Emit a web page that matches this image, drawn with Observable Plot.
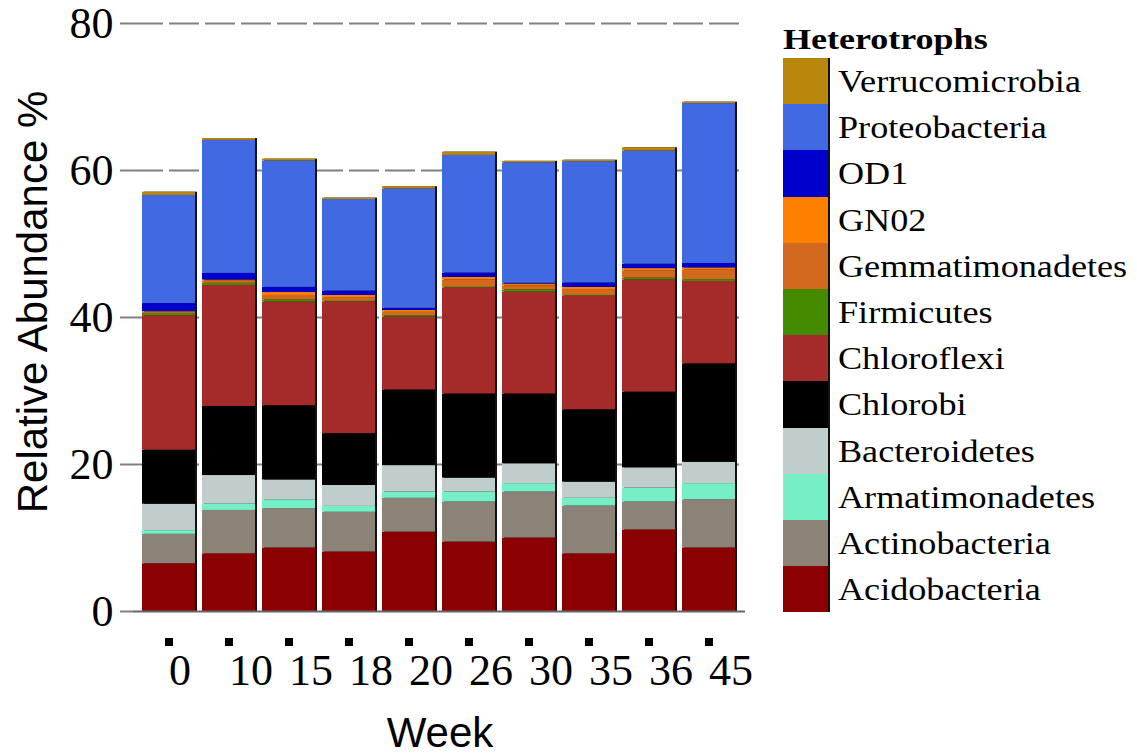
<!DOCTYPE html>
<html>
<head>
<meta charset="utf-8">
<script src="https://cdn.jsdelivr.net/npm/d3@7"></script>
<script src="https://cdn.jsdelivr.net/npm/@observablehq/plot@0.6"></script>
<style>
  html, body { margin: 0; padding: 0; background: #fff; }
  #wrap { position: relative; width: 1137px; height: 756px; overflow: hidden; background: #fff; }
  #chart { position: absolute; left: 0; top: 0; }
  #chart svg text { font-family: "Liberation Serif", "Times New Roman", serif; }
  .ytitle { position: absolute; left: 33px; top: 302px; transform: translate(-50%, -50%) rotate(-90deg);
    font-family: "Liberation Sans", Arial, sans-serif; font-size: 42px; line-height: 42px; white-space: nowrap; color: #000; }
  .xtitle { position: absolute; left: 440px; top: 712px; transform: translateX(-50%);
    font-family: "Liberation Sans", Arial, sans-serif; font-size: 42px; line-height: 42px; white-space: nowrap; color: #000; }
  #legend { position: absolute; left: 783px; top: 24px; font-family: "Liberation Serif", "Times New Roman", serif; color: #000; }
  #legend .title { font-weight: bold; font-size: 30px; line-height: 30px; height: 34px; transform: scaleX(1.2); transform-origin: left center; white-space: nowrap; }
  #legend .rows { border-right: 2px solid #111; width: 45px; }
  #legend .row { position: relative; height: 46.2px; width: 45px; }
  #legend .row span { position: absolute; left: 55px; top: 50%; transform: translateY(-50%) scaleX(1.13); transform-origin: left center;
    font-size: 32px; line-height: 32px; white-space: nowrap; }
</style>
</head>
<body>
<div id="wrap">
  <div id="chart"></div>
  <div class="ytitle">Relative Abundance %</div>
  <div class="xtitle">Week</div>
  <div id="legend"></div>
</div>
<script>
// Categories (weeks) and phyla, bottom-to-top stacking order
const weeks = ["0", "10", "15", "18", "20", "26", "30", "35", "36", "45"];
const phyla = ["Acidobacteria", "Actinobacteria", "Armatimonadetes", "Bacteroidetes", "Chlorobi", "Chloroflexi",
  "Firmicutes", "Gemmatimonadetes", "GN02", "OD1", "Proteobacteria", "Verrucomicrobia"];
const colors = ["#8b0000", "#8b8378", "#76eec6", "#c1cdcd", "#000000", "#a52a2a",
  "#458b00", "#d2691e", "#ff7f00", "#0000cd", "#4169e1", "#b8860b"];
const yTicks = [0, 20, 40, 60, 80];

// Relative abundance (%) per week
const Acidobacteria    = [6.5, 7.85, 8.65, 8.1, 10.8, 9.45, 10.0, 7.85, 11.1, 8.65];
const Actinobacteria   = [4.0, 5.9, 5.35, 5.4, 4.6, 5.45, 6.25, 6.5, 3.8, 6.55];
const Armatimonadetes  = [0.5, 0.9, 1.2, 0.8, 0.85, 1.35, 1.15, 1.05, 1.9, 2.2];
const Bacteroidetes    = [3.6, 3.85, 2.7, 2.85, 3.6, 1.9, 2.7, 2.2, 2.75, 2.9];
const Chlorobi         = [7.35, 9.4, 10.1, 7.05, 10.3, 11.45, 9.5, 9.85, 10.3, 13.4];
const Chloroflexi      = [18.3, 16.45, 14.1, 17.9, 9.9, 14.4, 13.85, 15.45, 15.25, 11.2];
const Firmicutes       = [0.3, 0.3, 0.3, 0.1, 0.2, 0.1, 0.3, 0.1, 0.25, 0.25];
const Gemmatimonadetes = [0.2, 0.3, 0.6, 0.5, 0.45, 1.0, 0.55, 0.8, 1.0, 1.3];
const GN02             = [0.05, 0.15, 0.4, 0.3, 0.25, 0.35, 0.25, 0.3, 0.3, 0.3];
const OD1              = [1.1, 0.9, 0.7, 0.6, 0.3, 0.6, 0.1, 0.6, 0.6, 0.6];
const Proteobacteria   = [14.7, 18.1, 17.2, 12.45, 16.25, 16.0, 16.4, 16.5, 15.4, 21.75];
const Verrucomicrobia  = [0.45, 0.25, 0.25, 0.2, 0.3, 0.45, 0.2, 0.2, 0.45, 0.2];

const series = {Acidobacteria, Actinobacteria, Armatimonadetes, Bacteroidetes, Chlorobi, Chloroflexi,
  Firmicutes, Gemmatimonadetes, GN02, OD1, Proteobacteria, Verrucomicrobia};

const rows = [];
weeks.forEach((w, i) => phyla.forEach(p => rows.push({week: w, phylum: p, value: series[p][i]})));
const totals = weeks.map((w, i) => ({week: w, total: d3.sum(phyla, p => series[p][i])}));

const serif = "'Liberation Serif', 'Times New Roman', serif";

const chart = Plot.plot({
  width: 770,
  height: 756,
  marginLeft: 133,
  marginRight: 25,
  marginTop: 23,
  marginBottom: 145,
  style: {fontFamily: serif, color: "#000", background: "#fff", overflow: "visible"},
  x: {domain: weeks, paddingInner: 0.11, paddingOuter: 0.1, axis: null},
  y: {domain: [0, 80], axis: null},
  color: {domain: phyla, range: colors},
  marks: [
    Plot.ruleY(yTicks.filter(d => d > 0), {stroke: "#808080", strokeWidth: 2, strokeDasharray: "30,6"}),
    Plot.axisY({ticks: yTicks, tickSize: 13, tickPadding: 7, stroke: "#808080", strokeWidth: 2, fontSize: 44, fontFamily: serif, fill: "#000", label: null}),
    Plot.barY(totals, {x: "week", y: "total", fill: "#111", dx: 2}),
    Plot.barY(rows, Plot.stackY({x: "week", y: "value", fill: "phylum", order: phyla})),
    Plot.ruleY([0], {stroke: "#666", strokeWidth: 2}),
    Plot.axisX({tickSize: 8, strokeWidth: 8, stroke: "#000", strokeLinecap: "butt", dy: 27, tickFormat: () => "", label: null}),
    Plot.axisX({tickSize: 0, tickPadding: 42, fontSize: 44, fontFamily: serif, fill: "#000", textAnchor: "start", label: null})
  ]
});
document.getElementById("chart").appendChild(chart);

// Legend (top-to-bottom = reverse of stack order)
const legend = document.getElementById("legend");
const t = document.createElement("div");
t.className = "title";
t.textContent = "Heterotrophs";
legend.appendChild(t);
const rowsDiv = document.createElement("div");
rowsDiv.className = "rows";
phyla.slice().reverse().forEach(p => {
  const r = document.createElement("div");
  r.className = "row";
  r.style.background = colors[phyla.indexOf(p)];
  const s = document.createElement("span");
  s.textContent = p;
  r.appendChild(s);
  rowsDiv.appendChild(r);
});
legend.appendChild(rowsDiv);
</script>
</body>
</html>
